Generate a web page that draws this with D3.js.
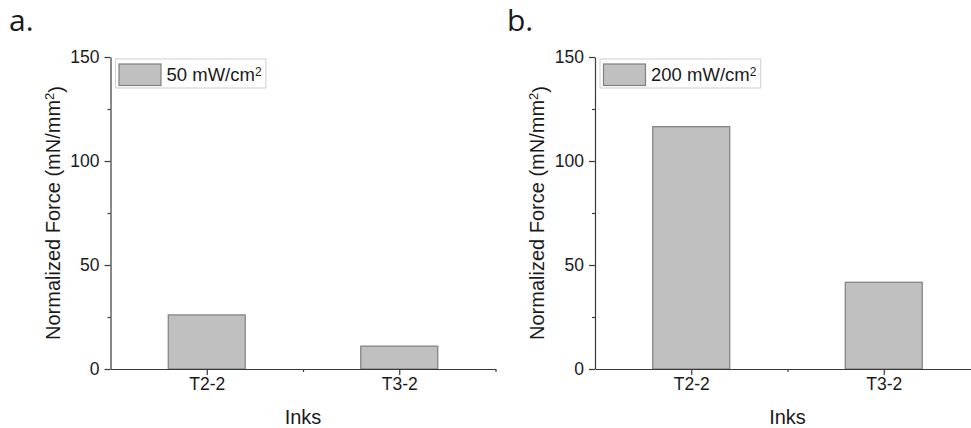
<!DOCTYPE html>
<html>
<head>
<meta charset="utf-8">
<script src="https://cdn.jsdelivr.net/npm/d3@7"></script>
<style>
  html, body { margin: 0; padding: 0; background: #fff; }
  svg { display: block; }
  text { font-family: "Liberation Sans", Arial, sans-serif; fill: #1a1a1a; }
</style>
</head>
<body>
<svg id="chart" width="971" height="428"></svg>
<script>
// ---- data ----
const categories = ["T2-2", "T3-2"];
const valuesA = [26.0, 11.0];
const valuesB = [116.5, 41.7];
const legendA = "50 mW/cm";
const legendB = "200 mW/cm";
const panelLabels = ["a.", "b."];
const yTickValues = [0, 50, 100, 150];
const yMinorTicks = [25, 75, 125];
const xTitle = "Inks";
const yTitle = "Normalized Force (mN/mm";

const svg = d3.select("#chart");

const panels = [
  { label: panelLabels[0], values: valuesA, legend: legendA, x0: 110.5, labelX: 9 },
  { label: panelLabels[1], values: valuesB, legend: legendB, x0: 595, labelX: 507 }
];

const plotW = 385;
const yTop = 57, yBottom = 369;
const axisColor = "#3a3a3a";

panels.forEach(p => {
  const g = svg.append("g");
  const x = d3.scaleLinear().domain([0.5, 2.5]).range([p.x0, p.x0 + plotW]);
  const y = d3.scaleLinear().domain([0, 150]).range([yBottom, yTop]);
  const barW = x(1.4) - x(1.0);

  // bars
  g.selectAll("rect.bar").data(p.values).enter().append("rect")
    .attr("class", "bar")
    .attr("x", (d, i) => x(i + 1) - barW / 2)
    .attr("width", barW)
    .attr("y", d => y(d))
    .attr("height", d => y(0) - y(d))
    .attr("fill", "#c0c0c0")
    .attr("stroke", "#7f7f7f")
    .attr("stroke-width", 1.2);

  // y axis
  const yAxis = d3.axisLeft(y).tickValues(yTickValues).tickSize(6).tickPadding(5).tickSizeOuter(0)
    .tickFormat(d3.format("d"));
  const ya = g.append("g").attr("transform", `translate(${p.x0},0)`).call(yAxis);
  ya.selectAll("text").style("font-size", "17.5px").attr("fill", "#1a1a1a");
  const yMinor = d3.axisLeft(y).tickValues(yMinorTicks).tickSize(3).tickFormat("").tickSizeOuter(0);
  const ym = g.append("g").attr("transform", `translate(${p.x0},0)`).call(yMinor);
  ym.select(".domain").remove();

  // x axis
  const xAxis = d3.axisBottom(x).tickValues([1, 2]).tickSize(6).tickPadding(3).tickSizeOuter(0)
    .tickFormat(d => categories[d - 1]);
  const xa = g.append("g").attr("transform", `translate(0,${yBottom})`).call(xAxis);
  xa.selectAll("text").style("font-size", "17.5px").attr("fill", "#1a1a1a");
  const xMinor = d3.axisBottom(x).tickValues([1.5, 2.5]).tickSize(3).tickFormat("").tickSizeOuter(0);
  const xm = g.append("g").attr("transform", `translate(0,${yBottom})`).call(xMinor);
  xm.select(".domain").remove();

  [ya, ym, xa, xm].forEach(a => {
    a.selectAll("path, line").attr("stroke", axisColor).attr("stroke-width", 1.2);
  });

  // axis titles
  g.append("text")
    .attr("x", x(1.5)).attr("y", 424)
    .attr("text-anchor", "middle")
    .style("font-size", "20px")
    .text(xTitle);
  const yt = g.append("text")
    .attr("transform", `translate(${p.x0 - 51},${(yTop + yBottom) / 2}) rotate(-90)`)
    .attr("text-anchor", "middle")
    .style("font-size", "20px");
  yt.append("tspan").text(yTitle);
  yt.append("tspan").attr("dy", "-0.45em").style("font-size", "13px").text("2");
  yt.append("tspan").attr("dy", "0.45em").text(")");

  // legend
  const lg = g.append("g").attr("transform", `translate(${p.x0 + 5},59)`);
  const box = lg.append("rect").attr("x", 0).attr("y", 0).attr("height", 29)
    .attr("fill", "#fff").attr("stroke", "#cfcfcf").attr("stroke-width", 1);
  lg.append("rect").attr("x", 3.5).attr("y", 5).attr("width", 42).attr("height", 21.5)
    .attr("fill", "#c0c0c0").attr("stroke", "#7f7f7f").attr("stroke-width", 1.2);
  const lt = lg.append("text").attr("x", 51).attr("y", 22).style("font-size", "18.5px");
  lt.append("tspan").text(p.legend);
  lt.append("tspan").attr("dy", "-0.45em").style("font-size", "12px").text("2");
  const bb = lt.node().getBBox();
  box.attr("width", bb.x + bb.width + 4);

  // panel label
  svg.append("text")
    .attr("x", p.labelX).attr("y", 31)
    .style("font-family", "'Open Sans', 'Noto Sans', sans-serif")
    .style("font-size", "30px")
    .text(p.label);
});
</script>
</body>
</html>
